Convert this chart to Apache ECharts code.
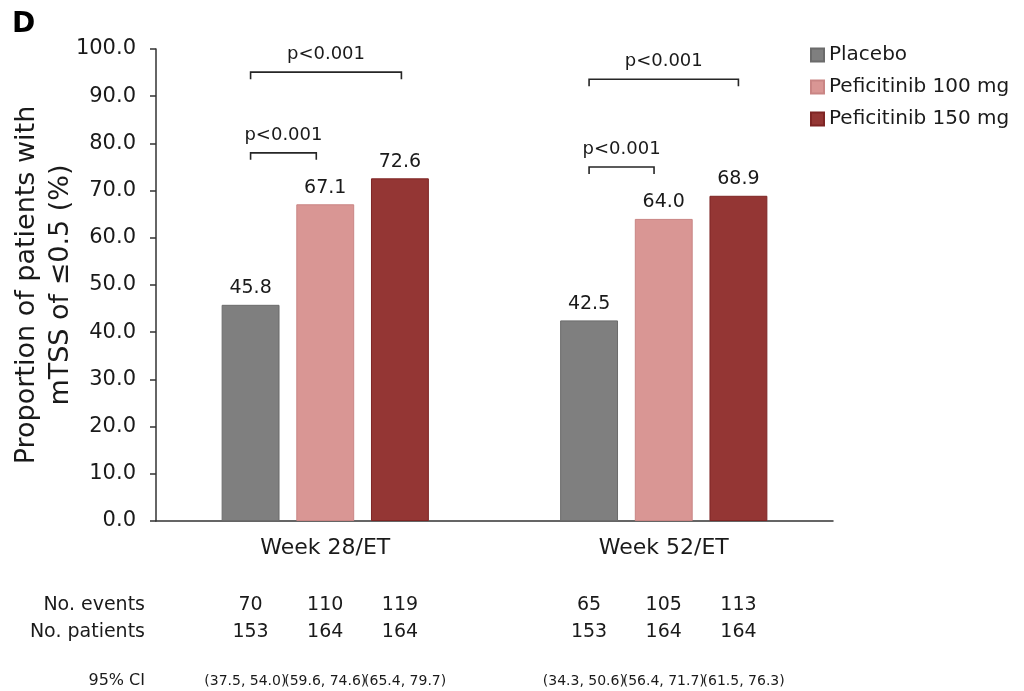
<!DOCTYPE html>
<html>
<head>
<meta charset="utf-8">
<script src="https://cdn.jsdelivr.net/npm/echarts@6/dist/echarts.min.js"></script>
<style>
  html, body { margin: 0; padding: 0; background: #ffffff; }
  #chart { width: 1024px; height: 691px; }
</style>
</head>
<body>
<div id="chart"></div>
<script>
// ---------- data ----------
const categories = ['Week 28/ET', 'Week 52/ET'];
const seriesNames = ['Placebo', 'Peficitinib 100 mg', 'Peficitinib 150 mg'];
const placebo = [45.8, 42.5];
const pef100 = [67.1, 64.0];
const pef150 = [72.6, 68.9];
const yTicks = [0, 10, 20, 30, 40, 50, 60, 70, 80, 90, 100];

const eventsPlacebo = [70, 65];
const events100 = [110, 105];
const events150 = [119, 113];
const patientsPlacebo = [153, 153];
const patients100 = [164, 164];
const patients150 = [164, 164];
const ciPlacebo = [[37.5, 54.0], [34.3, 50.6]];
const ci100 = [[59.6, 74.6], [56.4, 71.7]];
const ci150 = [[65.4, 79.7], [61.5, 76.3]];

// significance brackets: [category, fromBar, toBar, level, text]
const brackets = [
  [0, 0, 0.88, 78.0, 'p<0.001'],
  [0, 0, 2.02, 95.1, 'p<0.001'],
  [1, 0, 0.87, 75.0, 'p<0.001'],
  [1, 0, 2.0, 93.6, 'p<0.001']
];

const rowLabels = ['No. events', 'No. patients', '95% CI'];

// ---------- build ----------
const FONT = 'DejaVu Sans';
const TXT = '#1a1a1a';
const colors = ['#7f7f7f', '#d99694', '#943634'];
const borders = ['#6b6b6b', '#c98584', '#7e2524'];
const BAR_W = 0.171;   // fraction of band
const BAR_GAP = 0.29;  // fraction of bar width
const CI_SPREAD = 1.07;

const valuesBySeries = [placebo, pef100, pef150];
const eventsBySeries = [eventsPlacebo, events100, events150];
const patientsBySeries = [patientsPlacebo, patients100, patients150];
const ciBySeries = [ciPlacebo, ci100, ci150];

const tableData = [];
categories.forEach(function (c, ci) {
  for (let s = 0; s < 3; s++) {
    tableData.push([ci, s, eventsBySeries[s][ci], patientsBySeries[s][ci],
      ciBySeries[s][ci][0], ciBySeries[s][ci][1]]);
  }
});

function barCenterX(api, cat, barPos) {
  const band = api.size([1, 0])[0];
  const bw = band * BAR_W;
  const step = bw * (1 + BAR_GAP);
  return api.coord([cat, 0])[0] + (barPos - 1) * step;
}

const barSeries = seriesNames.map(function (name, i) {
  return {
    name: name,
    type: 'bar',
    data: valuesBySeries[i],
    barWidth: (BAR_W * 100) + '%',
    barGap: (BAR_GAP * 100) + '%',
    itemStyle: { color: colors[i], borderColor: borders[i], borderWidth: 1 },
    label: {
      show: true,
      position: 'top',
      distance: 7,
      formatter: function (p) { return p.value.toFixed(1); },
      fontFamily: FONT,
      fontSize: 19,
      color: TXT
    },
    emphasis: { disabled: true }
  };
});

const bracketSeries = {
  type: 'custom',
  clip: false,
  silent: true,
  encode: { x: 0, y: 3 },
  data: brackets,
  renderItem: function (params, api) {
    const cat = api.value(0);
    const x1 = barCenterX(api, cat, api.value(1));
    const x2 = barCenterX(api, cat, api.value(2));
    const y = api.coord([cat, api.value(3)])[1];
    const drop = 7;
    return {
      type: 'group',
      children: [
        {
          type: 'polyline',
          shape: { points: [[x1, y + drop], [x1, y], [x2, y], [x2, y + drop]] },
          style: { stroke: '#262626', lineWidth: 1.6, fill: null }
        },
        {
          type: 'text',
          x: (x1 + x2) / 2,
          y: y - 18,
          style: {
            text: brackets[params.dataIndex][4],
            textAlign: 'center',
            textVerticalAlign: 'middle',
            fontFamily: FONT,
            fontSize: 18,
            fill: TXT
          }
        }
      ]
    };
  }
};

const tableSeries = {
  type: 'custom',
  clip: false,
  silent: true,
  encode: { x: 0, y: 1 },
  data: tableData,
  renderItem: function (params, api) {
    const cat = api.value(0);
    const bar = api.value(1);
    const x = barCenterX(api, cat, bar);
    const xc = barCenterX(api, cat, 1 + (bar - 1) * CI_SPREAD);
    const base = api.coord([cat, 0])[1];
    const lo = api.value(4), hi = api.value(5);
    function t(text, px, dy, size) {
      return {
        type: 'text', x: px, y: base + dy,
        style: { text: text, textAlign: 'center', textVerticalAlign: 'middle',
                 fontFamily: FONT, fontSize: size, fill: TXT }
      };
    }
    return {
      type: 'group',
      children: [
        t(String(api.value(2)), x, 84, 19),
        t(String(api.value(3)), x, 111, 19),
        t('(' + lo.toFixed(1) + ', ' + hi.toFixed(1) + ')', xc, 160, 14)
      ]
    };
  }
};

const rowYs = [605, 632, 681];
const rowSizes = [19, 19, 16];
const graphics = [{
  type: 'text', x: 12, y: 11,
  style: { text: 'D', fontFamily: FONT, fontWeight: 'bold', fontSize: 28, fill: '#000' }
}];
rowLabels.forEach(function (lab, i) {
  graphics.push({
    type: 'text', x: 145, y: rowYs[i],
    style: { text: lab, textAlign: 'right', textVerticalAlign: 'middle',
             fontFamily: FONT, fontSize: rowSizes[i], fill: TXT }
  });
});

const chart = echarts.init(document.getElementById('chart'), null, { renderer: 'canvas' });
chart.setOption({
  animation: false,
  backgroundColor: '#ffffff',
  textStyle: { fontFamily: FONT },
  legend: {
    data: seriesNames,
    orient: 'vertical',
    left: 810,
    top: 45,
    padding: 0,
    itemWidth: 13,
    itemHeight: 13,
    itemGap: 12,
    icon: 'rect',
    textStyle: { fontFamily: FONT, fontSize: 20, color: TXT, lineHeight: 20 },
    selectedMode: false
  },
  grid: { left: 156, right: 191, top: 49, bottom: 170, containLabel: false, outerBoundsMode: 'none' },
  xAxis: {
    type: 'category',
    data: categories,
    axisLine: { lineStyle: { color: '#333', width: 1.5 } },
    axisTick: { show: false },
    axisLabel: { fontFamily: FONT, fontSize: 22, color: TXT, margin: 16 }
  },
  yAxis: {
    type: 'value',
    min: yTicks[0],
    max: yTicks[yTicks.length - 1],
    interval: yTicks[1] - yTicks[0],
    name: 'Proportion of patients with\nmTSS of \u22640.5 (%)',
    nameLocation: 'middle',
    nameGap: 78,
    nameMoveOverlap: false,
    nameTextStyle: { fontFamily: FONT, fontSize: 27, color: TXT, lineHeight: 34 },
    axisLine: { show: true, lineStyle: { color: '#333', width: 1.5 } },
    axisTick: { show: true, length: 6, lineStyle: { color: '#333', width: 1.5 } },
    splitLine: { show: false },
    axisLabel: {
      fontFamily: FONT, fontSize: 21, color: TXT, margin: 20,
      formatter: function (v) { return v.toFixed(1); }
    }
  },
  graphic: graphics,
  series: barSeries.concat([bracketSeries, tableSeries])
});
</script>
</body>
</html>
